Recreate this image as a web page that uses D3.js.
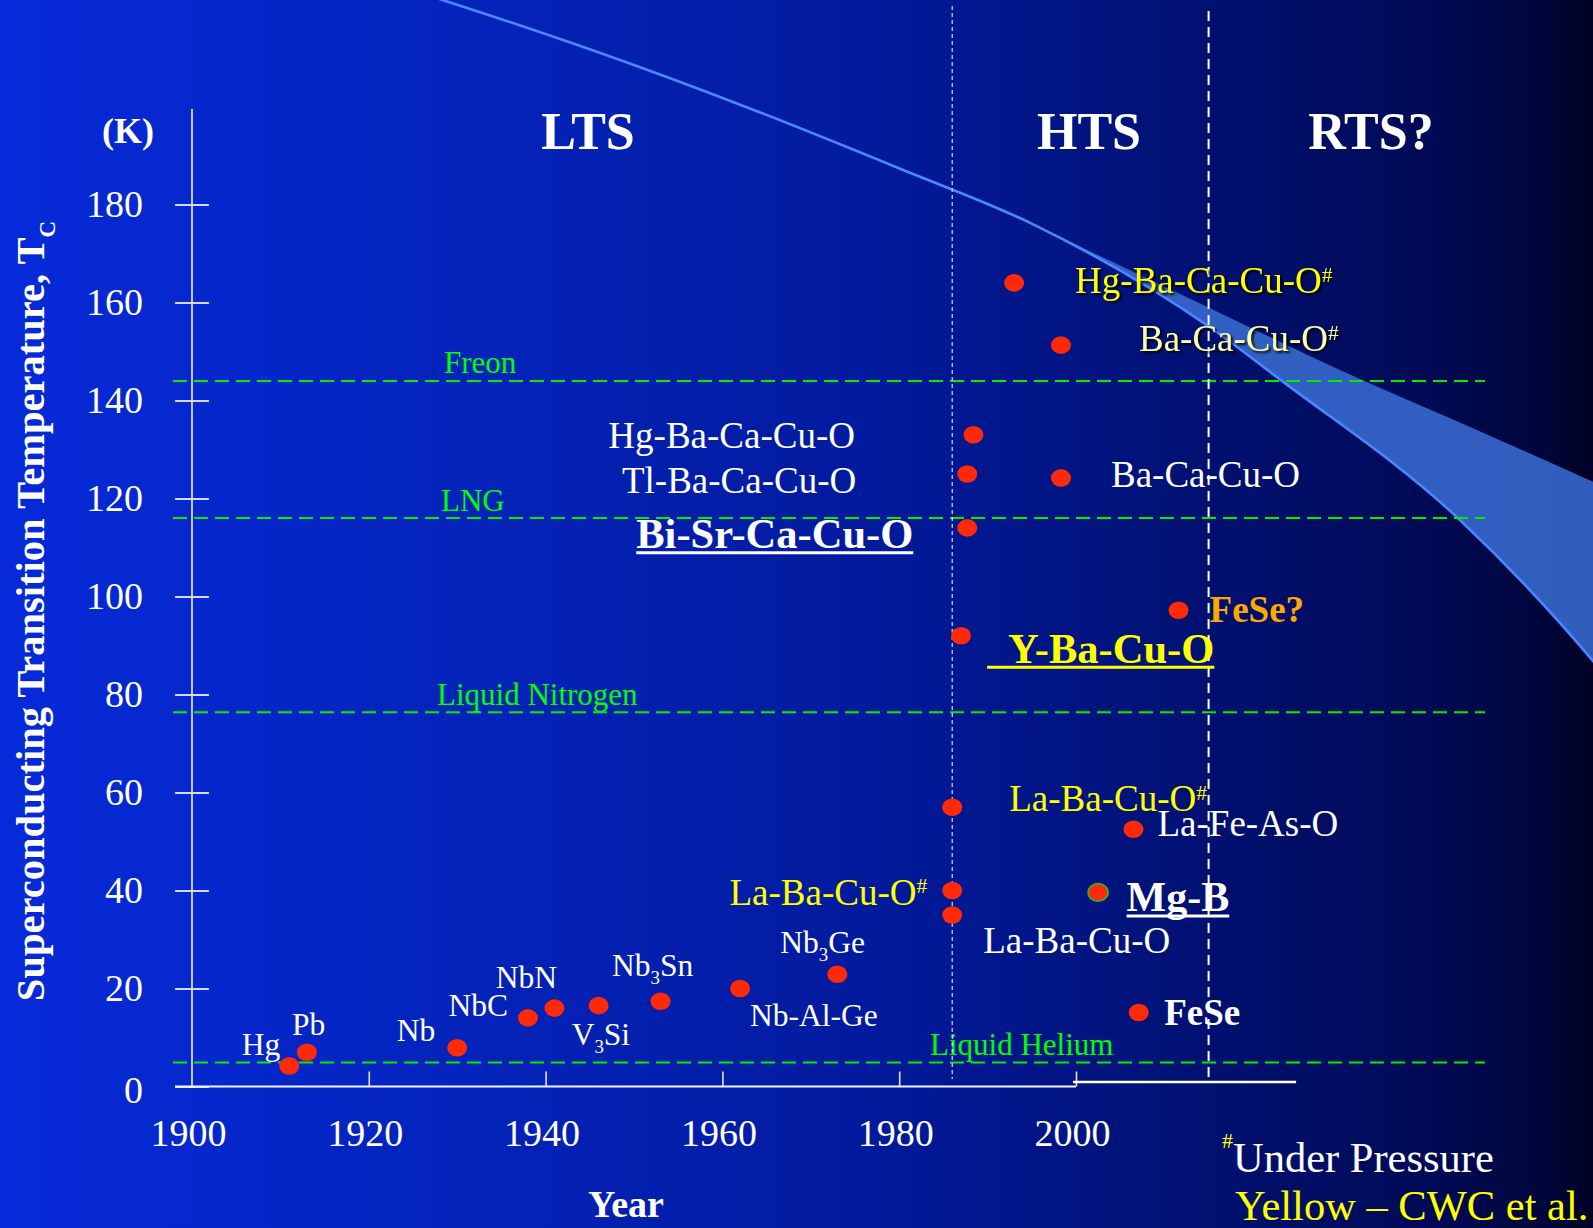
<!DOCTYPE html>
<html><head><meta charset="utf-8">
<script src="https://cdn.jsdelivr.net/npm/d3@7"></script>
<style>
html,body{margin:0;padding:0;background:#021a9a;overflow:hidden}
svg{display:block}
text{font-family:"Liberation Serif","Times New Roman",serif}
</style></head><body>
<svg id="chart" width="1593" height="1228"></svg>
<script>
// ---------------- DATA ----------------
const materials = ["Hg","Pb","Nb","NbC","NbN","V_3Si","Nb_3Sn","Nb-Al-Ge","Nb_3Ge",
  "La-Ba-Cu-O","La-Ba-Cu-O^#","La-Ba-Cu-O^#","Mg-B","La-Fe-As-O","FeSe",
  "Y-Ba-Cu-O","FeSe?","Bi-Sr-Ca-Cu-O","Ba-Ca-Cu-O","Tl-Ba-Ca-Cu-O","Hg-Ba-Ca-Cu-O",
  "Ba-Ca-Cu-O^#","Hg-Ba-Ca-Cu-O^#"];
const years = [1911,1913,1930,1938,1941,1946,1953,1962,1973,
  1986,1986,1986,2002.5,2006.5,2007.1,
  1987,2011.6,1987.7,1998.3,1987.7,1988.4,
  1998.3,1993];
const tcValues = [4.2,7.0,7.9,14.0,16.0,16.5,17.4,20.0,22.9,
  35,40,57,39.6,52.5,15.1,
  92,97.2,114,124.2,125,133,
  151.3,164];

const coolants = ["Freon","LNG","Liquid Nitrogen","Liquid Helium"];
const coolantTemps = [144,116,76.4,4.9];

const eras = ["LTS","HTS","RTS?"];
const eraBoundaries = [1986, 2015];

const xTicks = [1900,1920,1940,1960,1980,2000];
const yTicks = [0,20,40,60,80,100,120,140,160,180];

// projected Tc trend line
const trendYears = [1925.8,1928.4,1946.2,1963.1,1980.1,1995.1,2015.1,2023.3,2043.2,2058.5,2062.1];
const trendTc    = [223.2,221.7,210.9,199.6,187.3,176.0,155.0,144.0,116.0,86.8,78.9];
// upper edge of the widening band
const bandTopYears = [1995.1,2015.1,2030.1,2045.1,2058.5,2062.1];
const bandTopTc    = [176.0,158.9,146.0,134.2,123.4,120.5];

// ---------------- LAYOUT / STYLE ----------------
const W = 1593, H = 1228;
const FONT = '"Liberation Serif","Times New Roman",serif';
const YEL = "#ffff00";
const labelLayout = [
  {dx:-9,   dy:-11,  anchor:"end"},
  {dx:-15,  dy:-17,  anchor:"start"},
  {dx:-22,  dy:-7,   anchor:"end"},
  {dx:-20,  dy:-2,   anchor:"end"},
  {dx:-28,  dy:-20,  anchor:"middle"},
  {dx:-27,  dy:39,   anchor:"start"},
  {dx:-48.5,dy:-25.5,anchor:"start"},
  {dx:10,   dy:37,   anchor:"start"},
  {dx:-57,  dy:-21,  anchor:"start"},
  {dx:31,   dy:38,   anchor:"start", size:37},
  {dx:-25,  dy:14,   anchor:"end",   size:37, fill:YEL},
  {dx:57,   dy:3.5,  anchor:"start", size:37, fill:YEL},
  {dx:28.5, dy:19,   anchor:"start", size:42, bold:true, ul:true},
  {dx:24,   dy:6.7,  anchor:"start", size:37},
  {dx:25.5, dy:12.5, anchor:"start", size:37, bold:true},
  {dx:47,   dy:27,   anchor:"start", size:42.5, bold:true, fill:YEL, ul:true, ulPad:21},
  {dx:31,   dy:11.5, anchor:"start", size:37, bold:true, fill:"#ffa800"},
  {dx:-54,  dy:20.4, anchor:"end",   size:42.5, bold:true, ul:true},
  {dx:50,   dy:9,    anchor:"start", size:37},
  {dx:-111, dy:18.5, anchor:"end",   size:37},
  {dx:-118.5,dy:12.7,anchor:"end",   size:37},
  {dx:78,   dy:6,    anchor:"start", size:37, fill:"#ffffa8", shadow:true},
  {dx:61,   dy:10,   anchor:"start", size:37, fill:YEL, shadow:true}
];
const coolantLabelX = [444, 441, 437, 930];
const eraLabelX = [588, 1089, 1371];

// ---------------- SCALES ----------------
const x = d3.scaleLinear().domain([1900,2000]).range([192,1076]);
const y = d3.scaleLinear().domain([0,180]).range([1086.5,204.5]);

const svg = d3.select("#chart");
const defs = svg.append("defs");
const bg = defs.append("linearGradient").attr("id","bg")
  .attr("x1",0).attr("x2",1).attr("y1",0).attr("y2",0);
[[0,"#062ad9"],[0.3,"#0423ba"],[0.55,"#021a9c"],[0.75,"#011173"],[0.9,"#000a55"],[0.97,"#00063a"],[1,"#000224"]]
  .forEach(([o,c]) => bg.append("stop").attr("offset",o).attr("stop-color",c));
svg.append("rect").attr("width",W).attr("height",H).attr("fill","url(#bg)");

// ---------------- BAND + TREND ----------------
const trendPts = trendYears.map((d,i)=>[x(d), y(trendTc[i])]);
const topPts = bandTopYears.map((d,i)=>[x(d), y(bandTopTc[i])]);
const startIdx = trendYears.indexOf(bandTopYears[0]);
const lowerPts = trendPts.slice(startIdx);
const lineGen = d3.line().curve(d3.curveMonotoneX);
const lineGenY = d3.line().curve(d3.curveMonotoneX);
// reverse lower edge by mirroring x so the monotone curve stays well-defined
const lowerRevMirror = lowerPts.slice().reverse().map(p=>[-p[0],p[1]]);
const revPath = d3.path();
(function(){
  // build a reversed monotone path by generating on mirrored x and flipping sign back
  const tmp = lineGenY(lowerRevMirror);
  return tmp;
})();
const mirrored = lineGenY(lowerRevMirror).replace(/(-?\d*\.?\d+(?:e-?\d+)?),(-?\d*\.?\d+(?:e-?\d+)?)/g,
  (m,a,b)=>`${-parseFloat(a)},${b}`);
const bandPath = lineGen(topPts) + "L" + mirrored.slice(1) + "Z";
svg.append("path").attr("d", bandPath).attr("fill","#3565c9").attr("fill-opacity",0.93);
svg.append("path").attr("d", lineGen(trendPts)).attr("fill","none")
  .attr("stroke","#4a88ff").attr("stroke-width",2.6);

// ---------------- COOLANT LINES ----------------
const xLeft = x.invert(173), xRight = x.invert(1485);
coolants.forEach((c,i)=>{
  svg.append("line").attr("x1",x(xLeft)).attr("x2",x(xRight))
    .attr("y1",y(coolantTemps[i])).attr("y2",y(coolantTemps[i]))
    .attr("stroke","#00ee00").attr("stroke-width",2).attr("stroke-dasharray","14 7");
  svg.append("text").attr("x",coolantLabelX[i]).attr("y",y(coolantTemps[i])-7.5)
    .attr("fill","#00ff00").attr("font-size",31).text(c);
});

// ---------------- ERA LINES ----------------
svg.append("line").attr("x1",x(eraBoundaries[0])).attr("x2",x(eraBoundaries[0]))
  .attr("y1",6).attr("y2",1079).attr("stroke","#d8d8ff").attr("stroke-width",1.2)
  .attr("stroke-dasharray","4 3");
svg.append("line").attr("x1",x(eraBoundaries[1])).attr("x2",x(eraBoundaries[1]))
  .attr("y1",11).attr("y2",1082).attr("stroke","#ffffff").attr("stroke-width",2)
  .attr("stroke-dasharray","10 6");
eras.forEach((e,i)=>{
  svg.append("text").attr("x",eraLabelX[i]).attr("y",149).attr("text-anchor","middle")
    .attr("font-weight","bold").attr("font-size",52).attr("fill","#fff").text(e);
});

// ---------------- AXES ----------------
const yAxisTop = 199.5;
svg.append("line").attr("x1",x(1900)).attr("x2",x(1900)).attr("y1",y(0)).attr("y2",y(yAxisTop))
  .attr("stroke","#eef").attr("stroke-width",1.6);
const yAx = svg.append("g").attr("transform",`translate(${x(1900)},0)`)
  .call(d3.axisLeft(y).tickValues(yTicks).tickSize(0).tickPadding(49));
yAx.select(".domain").remove();
yAx.attr("font-family",FONT).attr("font-size",38);
yAx.selectAll(".tick text").attr("fill","#fff").attr("dy",d=>d===0?"0.42em":"0.32em");
yAx.selectAll(".tick").append("line").attr("x1",-17).attr("x2",17)
  .attr("stroke","#d8d8ee").attr("stroke-width",2);

const xAx = svg.append("g").attr("transform",`translate(0,${y(0)})`)
  .call(d3.axisBottom(x).tickValues(xTicks).tickSize(0).tickPadding(33).tickFormat(d3.format("d")));
xAx.select(".domain").remove();
xAx.attr("font-family",FONT).attr("font-size",38);
xAx.selectAll(".tick text").attr("fill","#fff").attr("dx",-4);
xAx.selectAll(".tick").filter(d=>d!==1900).append("line").attr("y1",0).attr("y2",-15)
  .attr("stroke","#e0e0f0").attr("stroke-width",1.6);
svg.append("line").attr("x1",175).attr("x2",x(2000)).attr("y1",y(0)).attr("y2",y(0))
  .attr("stroke","#f4f4ff").attr("stroke-width",2);
svg.append("line").attr("x1",x(2000)-3).attr("x2",x(2024.9)).attr("y1",y(0)-4.5).attr("y2",y(0)-4.5)
  .attr("stroke","#ffffff").attr("stroke-width",2.4);

// axis titles
svg.append("text").attr("x",102).attr("y",143).attr("font-weight","bold")
  .attr("font-size",36).attr("fill","#fff").text("(K)");
svg.append("text").attr("x",626).attr("y",1217).attr("text-anchor","middle").attr("font-weight","bold")
  .attr("font-size",38).attr("fill","#fff").text("Year");
const yt = svg.append("text").attr("transform","translate(44,611) rotate(-90)")
  .attr("text-anchor","middle").attr("font-weight","bold").attr("font-size",40.5).attr("fill","#fff");
yt.append("tspan").text("Superconducting Transition Temperature, T");
yt.append("tspan").attr("font-size",23).attr("dy",11).text("C");

// ---------------- POINTS ----------------
svg.selectAll("ellipse.pt").data(materials).join("ellipse").attr("class","pt")
  .attr("cx",(d,i)=>x(years[i])).attr("cy",(d,i)=>y(tcValues[i]))
  .attr("rx",10).attr("ry",8.8).attr("fill","#ff2a08")
  .attr("stroke",d=>d==="Mg-B"?"#2fb52f":"none").attr("stroke-width",1.6);

// ---------------- LABELS ----------------
function rich(t, str, size){
  const parts = str.split(/(_\d+|\^#)/).filter(s=>s.length);
  let shift = 0;
  parts.forEach(p=>{
    const ts = t.append("tspan");
    if (p[0]==="_") {
      const s = size*0.6;
      ts.attr("font-size",s).attr("dy", 8 - shift).text(p.slice(1)); shift = 8;
    } else if (p[0]==="^") {
      const s = size*0.58;
      ts.attr("font-size",s).attr("dy", -0.3*size - shift).text("#"); shift = -0.3*size;
    } else {
      ts.attr("dy", -shift).text(p); shift = 0;
    }
  });
}
materials.forEach((m,i)=>{
  const L = labelLayout[i];
  const size = L.size || 31.5;
  const px = x(years[i]) + L.dx, py = y(tcValues[i]) + L.dy;
  const t = svg.append("text").attr("x",px).attr("y",py).attr("text-anchor",L.anchor)
    .attr("font-size",size).attr("fill",L.fill||"#fff")
    .attr("font-weight",L.bold?"bold":"normal");
  if (L.shadow) t.style("filter","drop-shadow(2px 2px 1px rgba(0,0,0,0.85))");
  rich(t, m, size);
  if (L.ul) {
    const bb = t.node().getBBox();
    const pad = L.ulPad || 0;
    svg.append("line").attr("x1",bb.x - pad).attr("x2",bb.x+bb.width)
      .attr("y1",py+4.5).attr("y2",py+4.5).attr("stroke",L.fill||"#fff").attr("stroke-width",3);
  }
});

// ---------------- NOTES ----------------
const n1 = svg.append("text").attr("x",1222).attr("y",1171.5).attr("font-size",42.5).attr("fill","#fff");
n1.append("tspan").attr("fill",YEL).attr("font-size",22).attr("dy",-24).text("#");
n1.append("tspan").attr("dy",24).text("Under Pressure");
svg.append("text").attr("x",1235).attr("y",1220).attr("font-size",42.5).attr("fill",YEL)
  .text("Yellow \u2013 CWC et al.");
</script>
</body></html>
